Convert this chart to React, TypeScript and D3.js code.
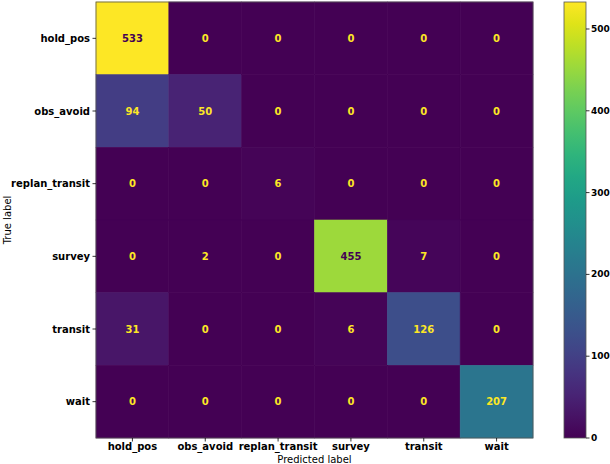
import React from "react";
import * as d3 from "d3";

const labels = ["hold_pos", "obs_avoid", "replan_transit", "survey", "transit", "wait"];
const matrix = [
  [533, 0, 0, 0, 0, 0],
  [94, 50, 0, 0, 0, 0],
  [0, 0, 6, 0, 0, 0],
  [0, 2, 0, 455, 7, 0],
  [31, 0, 0, 6, 126, 0],
  [0, 0, 0, 0, 0, 207],
];
const cbTicks = [0, 100, 200, 300, 400, 500];

export default function App() {
  const W = 610, H = 464;
  const left = 96, top = 2, right = 533, bottom = 438;
  const x = d3.scaleBand<string>().domain(labels).range([left, right]);
  const y = d3.scaleBand<string>().domain(labels).range([top, bottom]);
  const all = matrix.flat();
  const vmin = d3.min(all)!, vmax = d3.max(all)!;
  const color = d3.scaleSequential(d3.interpolateViridis).domain([vmin, vmax]);
  const thresh = (vmin + vmax) / 2;
  const cbX = 564, cbW = 22;
  const cbY = d3.scaleLinear().domain([vmin, vmax]).range([bottom, top]);
  const stops = d3.range(0, 1.0001, 0.05);
  const font = "DejaVu Sans, sans-serif";
  return (
    <svg width={W} height={H} style={{ position: "absolute", left: 0, top: 0 }} fontFamily={font}>
      <defs>
        <linearGradient id="cb" x1="0" y1="1" x2="0" y2="0">
          {stops.map((s) => (
            <stop key={s} offset={s} stopColor={d3.interpolateViridis(s)} />
          ))}
        </linearGradient>
      </defs>
      {matrix.map((row, i) =>
        row.map((v, j) => (
          <rect
            key={`r${i}-${j}`}
            x={x(labels[j])}
            y={y(labels[i])}
            width={x.bandwidth()}
            height={y.bandwidth()}
            fill={color(v)}
            stroke={color(v)}
            strokeWidth={0.6}
          />
        ))
      )}
      {matrix.map((row, i) =>
        row.map((v, j) => (
          <text
            key={`t${i}-${j}`}
            x={x(labels[j])! + x.bandwidth() / 2}
            y={y(labels[i])! + y.bandwidth() / 2}
            textAnchor="middle"
            dominantBaseline="central"
            fontSize={10}
            fontWeight="bold"
            fill={v > thresh ? d3.interpolateViridis(0) : d3.interpolateViridis(1)}
          >
            {v}
          </text>
        ))
      )}
      <rect x={left} y={top} width={right - left} height={bottom - top} fill="none" stroke="#555" strokeWidth={0.8} />
      {labels.map((l) => (
        <g key={"x" + l}>
          <line x1={x(l)! + x.bandwidth() / 2} x2={x(l)! + x.bandwidth() / 2} y1={bottom} y2={bottom + 3.5} stroke="#000" strokeWidth={0.8} />
          <text x={x(l)! + x.bandwidth() / 2} y={450} textAnchor="middle" fontSize={10} fontWeight="bold">
            {l}
          </text>
        </g>
      ))}
      {labels.map((l) => (
        <g key={"y" + l}>
          <line x1={left - 3.5} x2={left} y1={y(l)! + y.bandwidth() / 2} y2={y(l)! + y.bandwidth() / 2} stroke="#000" strokeWidth={0.8} />
          <text x={left - 6} y={y(l)! + y.bandwidth() / 2} textAnchor="end" dominantBaseline="central" fontSize={10} fontWeight="bold">
            {l}
          </text>
        </g>
      ))}
      <text x={(left + right) / 2} y={462.5} textAnchor="middle" fontSize={10}>
        Predicted label
      </text>
      <text transform={`translate(11,${(top + bottom) / 2}) rotate(-90)`} textAnchor="middle" fontSize={10}>
        True label
      </text>
      <rect x={cbX} y={top} width={cbW} height={bottom - top} fill="url(#cb)" stroke="#555" strokeWidth={0.8} />
      {cbTicks.map((t) => (
        <g key={"c" + t}>
          <line x1={cbX + cbW} x2={cbX + cbW + 3.5} y1={cbY(t)} y2={cbY(t)} stroke="#000" strokeWidth={0.8} />
          <text x={cbX + cbW + 5} y={cbY(t)} dominantBaseline="central" fontSize={9} fontWeight="bold">
            {t}
          </text>
        </g>
      ))}
    </svg>
  );
}
